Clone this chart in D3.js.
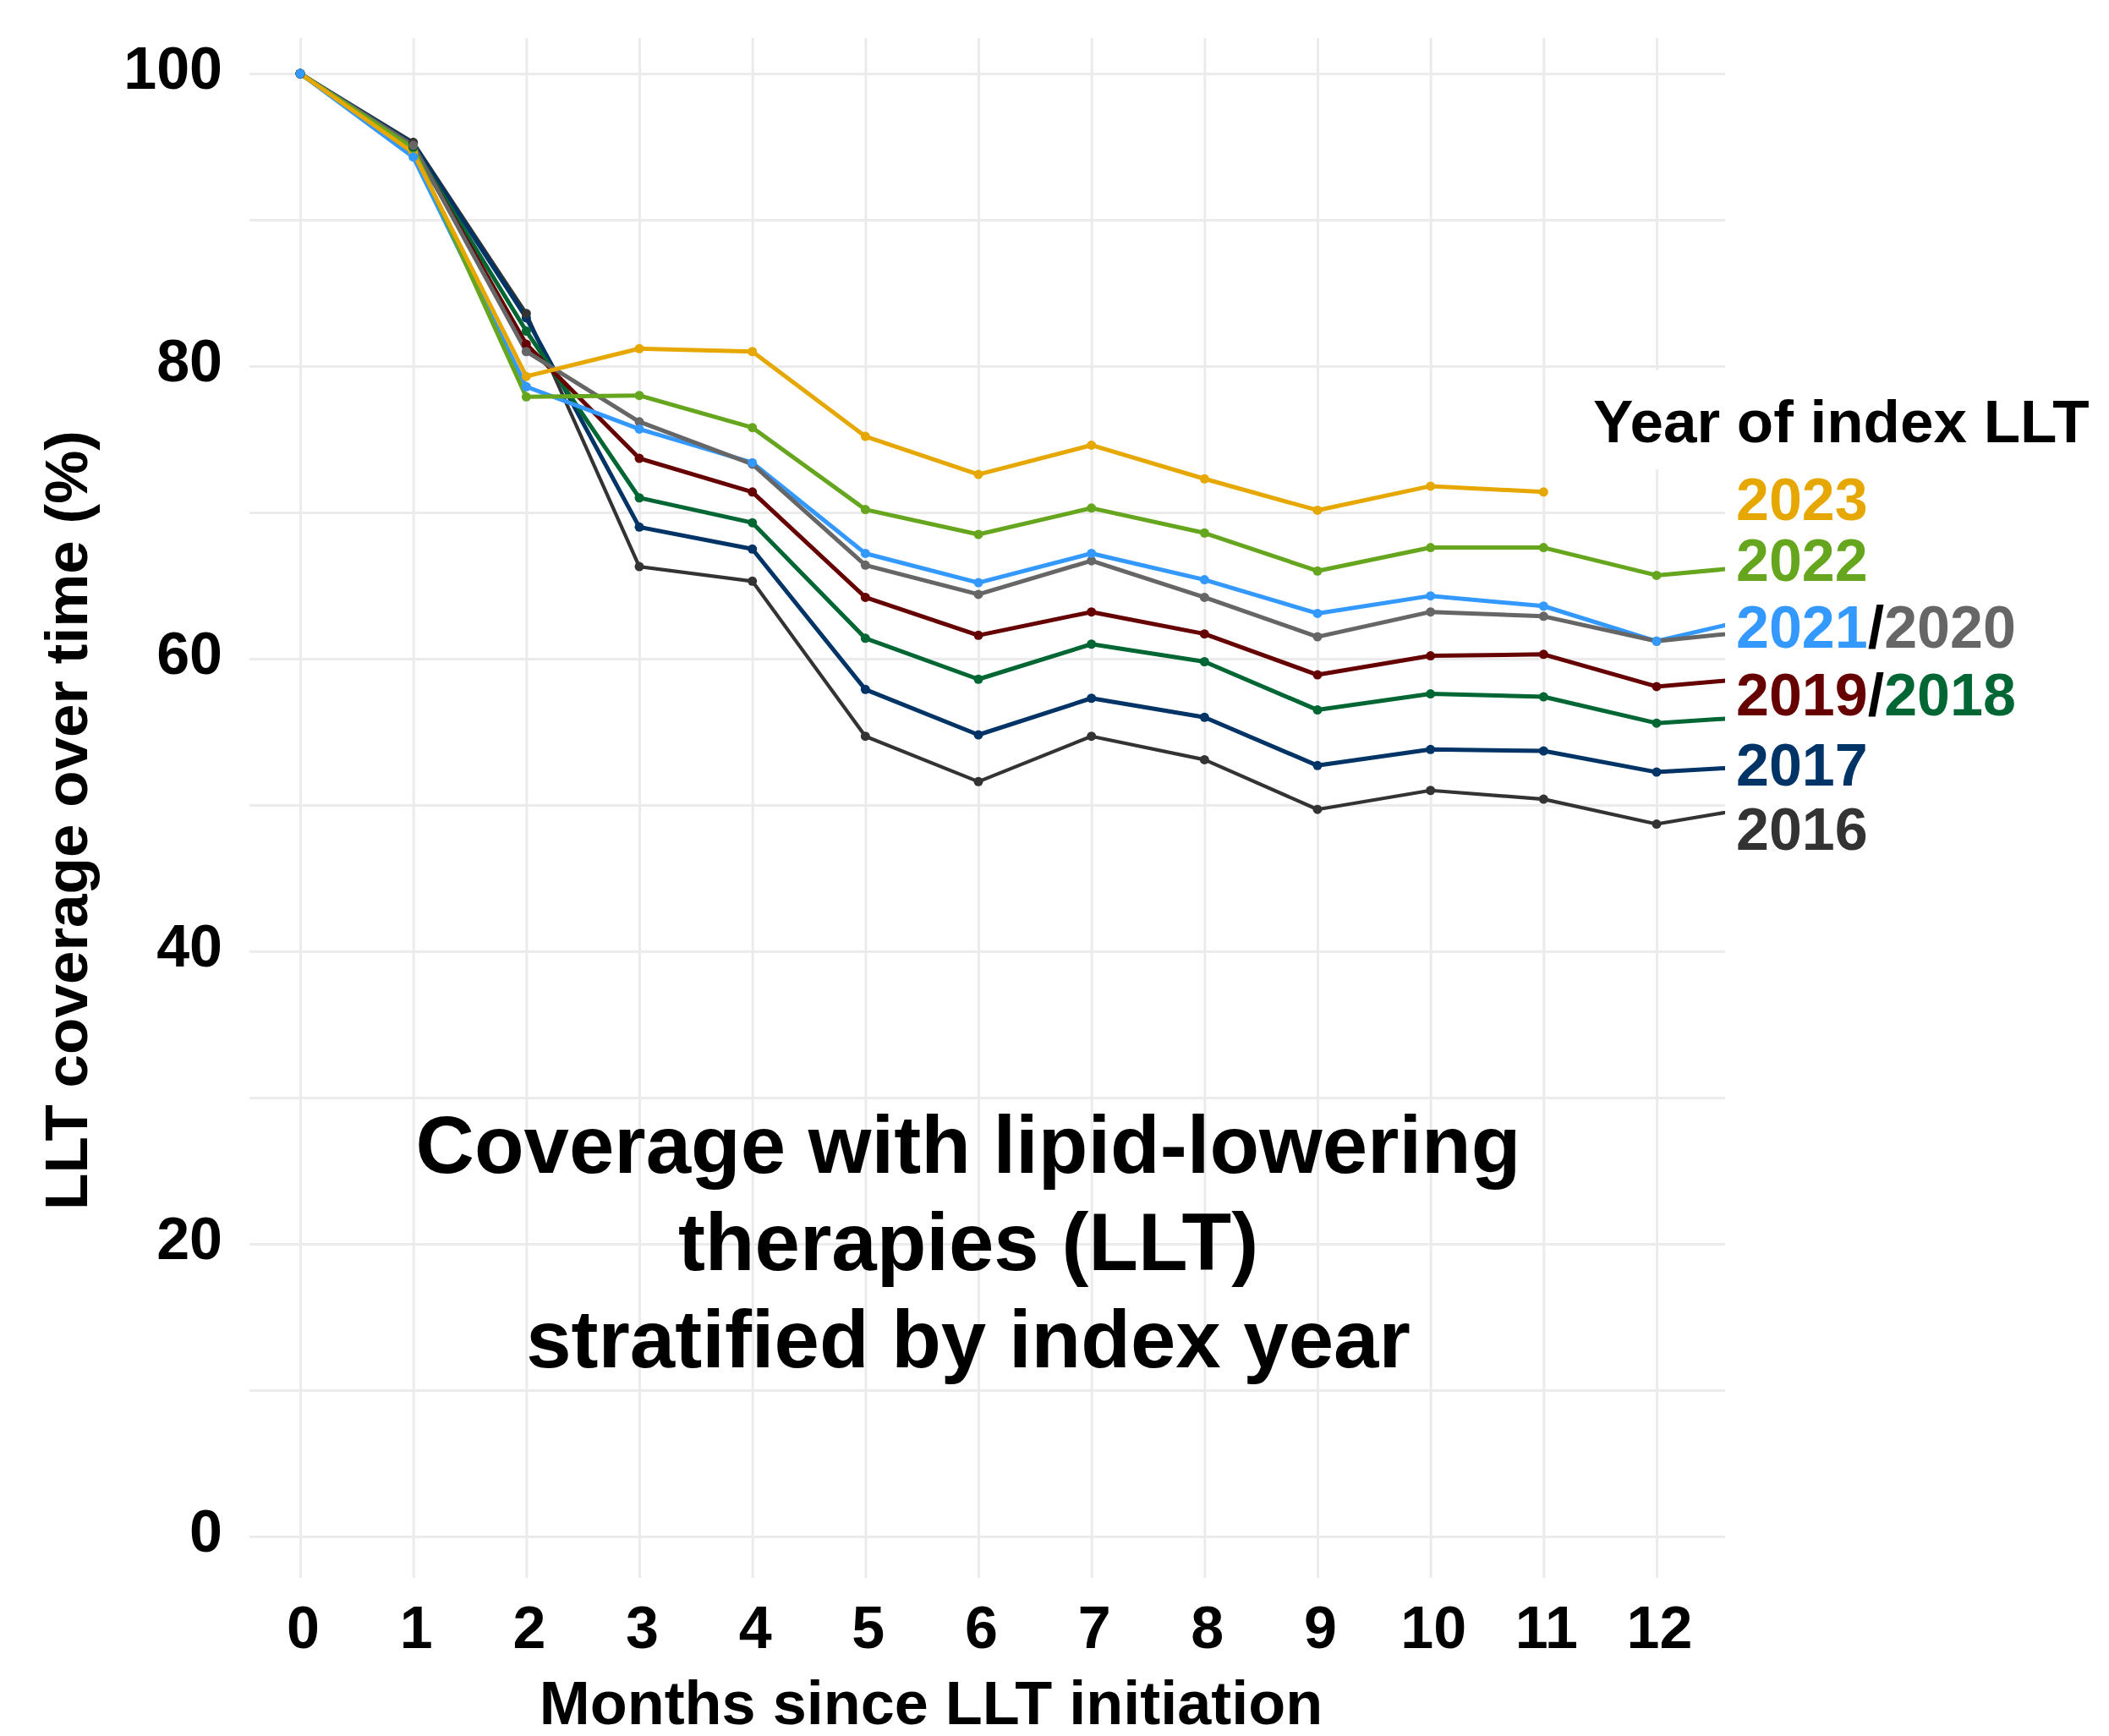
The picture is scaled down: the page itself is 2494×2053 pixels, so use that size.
<!DOCTYPE html>
<html><head><meta charset="utf-8">
<script src="https://cdn.jsdelivr.net/npm/d3@7"></script>
<style>
html,body{margin:0;padding:0;background:#fff;}
svg{display:block;}
text{font-family:"Liberation Sans",Arial,Helvetica,sans-serif;font-weight:bold;}
</style>
</head><body><div id="chart"></div>
<script>
// ---- data ----
const months = [0,1,2,3,4,5,6,7,8,9,10,11,12,13];
const years = ["2016","2017","2018","2019","2020","2021","2022","2023"];
const cov2016 = [100, 95.3, 83.6, 66.3, 65.3, 54.7, 51.6, 54.7, 53.1, 49.7, 51.0, 50.4, 48.7, 50.0];
const cov2017 = [100, 95.2, 83.3, 69.0, 67.5, 57.9, 54.8, 57.3, 56.0, 52.7, 53.8, 53.7, 52.25, 52.7];
const cov2018 = [100, 95.0, 82.4, 71.0, 69.3, 61.4, 58.6, 61.0, 59.8, 56.5, 57.6, 57.4, 55.6, 56.1];
const cov2019 = [100, 95.0, 81.5, 73.7, 71.4, 64.2, 61.6, 63.2, 61.7, 58.9, 60.2, 60.3, 58.1, 58.75];
const cov2020 = [100, 95.1, 81.0, 76.2, 73.3, 66.4, 64.4, 66.7, 64.2, 61.5, 63.2, 62.9, 61.2, 62.0];
const cov2021 = [100, 94.3, 78.6, 75.7, 73.4, 67.2, 65.2, 67.2, 65.4, 63.1, 64.3, 63.6, 61.2, 63.0];
const cov2022 = [100, 94.9, 77.9, 78.0, 75.8, 70.2, 68.5, 70.3, 68.6, 66.0, 67.6, 67.6, 65.7, 66.4];
const cov2023 = [100, 94.6, 79.3, 81.2, 81.0, 75.2, 72.6, 74.6, 72.3, 70.15, 71.8, 71.4];
const xTickValues = [0,1,2,3,4,5,6,7,8,9,10,11,12];
const yGridValues = [0,10,20,30,40,50,60,70,80,90,100];
const yTickLabels = [0,20,40,60,80,100];
const colors = {"2016":"#333333","2017":"#003366","2018":"#006633","2019":"#660000",
                "2020":"#666666","2021":"#3399FF","2022":"#66A61E","2023":"#E6A800"};
// label groups (year parts) and the value level each label sits at
const labelGroups = [["2023"],["2022"],["2021","2020"],["2019","2018"],["2017"],["2016"]];
const labelLevels = [70.95, 66.75, 62.2, 57.6, 52.8, 48.4];
const annotationLines = ["Coverage with lipid-lowering","therapies (LLT)","stratified by index year"];

const seriesData = {"2016":cov2016,"2017":cov2017,"2018":cov2018,"2019":cov2019,
                    "2020":cov2020,"2021":cov2021,"2022":cov2022,"2023":cov2023};
const lineOrder = ["2016","2017","2018","2019","2021","2020","2022","2023"];
const pointOrder = ["2023","2022","2019","2018","2017","2016","2020","2021"];

// ---- layout ----
const W = 2494, H = 2053;
const P = {left:295, right:2040, top:45, bottom:1866};
const x = d3.scaleLinear().domain([-0.449, 12.606]).range([P.left, P.right]);
const y = d3.scaleLinear().domain([-2.83, 102.43]).range([P.bottom, P.top]);

const svg = d3.select("#chart").append("svg").attr("width", W).attr("height", H);
svg.append("rect").attr("width", W).attr("height", H).attr("fill", "#fff");

const gridColor = "#EBEBEB";
// x axis (vertical grid + labels)
const gx = svg.append("g").attr("transform", `translate(0,${P.bottom})`)
  .call(d3.axisBottom(x).tickValues(xTickValues).tickSize(-(P.bottom - P.top)).tickFormat(d3.format("d")));
gx.select(".domain").remove();
gx.selectAll(".tick line").attr("stroke", gridColor).attr("stroke-width", 3);
gx.selectAll(".tick text").attr("y", 83).attr("dy", 0).attr("dx", 3)
  .attr("font-size", 70).attr("fill", "#000")
  .style("font-family", '"Liberation Sans",Arial,sans-serif').style("font-weight", "bold");

// y axis (horizontal grid + labels)
const gy = svg.append("g").attr("transform", `translate(${P.left},0)`)
  .call(d3.axisLeft(y).tickValues(yGridValues).tickSize(-(P.right - P.left))
    .tickPadding(32).tickFormat(d => yTickLabels.includes(d) ? d : ""));
gy.select(".domain").remove();
gy.selectAll(".tick line").attr("stroke", gridColor).attr("stroke-width", 3);
gy.selectAll(".tick text").attr("dy", 17).attr("font-size", 70).attr("fill", "#000")
  .style("font-family", '"Liberation Sans",Arial,sans-serif').style("font-weight", "bold");

// clip for panel
svg.append("clipPath").attr("id", "panel").append("rect")
  .attr("x", P.left).attr("y", P.top).attr("width", P.right - P.left).attr("height", P.bottom - P.top);

// annotation text (behind lines, over grid)
const ann = svg.append("text").attr("text-anchor", "middle").attr("font-size", 96).attr("fill", "#000");
annotationLines.forEach((t, i) => {
  ann.append("tspan").attr("x", 1145).attr("y", 1387 + i * 115).text(t);
});

const plot = svg.append("g").attr("clip-path", "url(#panel)");
const line = d3.line().x((d) => x(d[0])).y((d) => y(d[1]));
lineOrder.forEach(yr => {
  const vals = seriesData[yr];
  const pts = vals.map((v, i) => [months[i], v]);
  plot.append("path").datum(pts).attr("d", line).attr("fill", "none")
    .attr("stroke", colors[yr]).attr("stroke-width", yr === "2016" ? 4.2 : 5)
    .attr("stroke-linejoin", "round");
});
pointOrder.forEach(yr => {
  const vals = seriesData[yr];
  const pts = vals.map((v, i) => [months[i], v]).filter(d => d[0] <= 12);
  plot.selectAll(null).data(pts).enter().append("circle")
    .attr("cx", d => x(d[0])).attr("cy", d => y(d[1])).attr("r", 5.5)
    .attr("fill", colors[yr]);
});

// legend title with white box
svg.append("rect").attr("x", 1872).attr("y", 438).attr("width", W - 1872).attr("height", 117).attr("fill", "#fff");
svg.append("text").attr("x", 1884).attr("y", 523).attr("font-size", 71).attr("fill", "#000").text("Year of index LLT");

// year labels
labelGroups.forEach((grp, i) => {
  const t = svg.append("text").attr("x", 2053).attr("y", y(labelLevels[i])).attr("dy", "0.36em")
    .attr("font-size", 70);
  grp.forEach((yr, j) => {
    if (j > 0) t.append("tspan").attr("fill", "#000").text("/");
    t.append("tspan").attr("fill", colors[yr]).text(yr);
  });
});

// axis titles
svg.append("text").attr("x", 1101).attr("y", 2039).attr("text-anchor", "middle")
  .attr("font-size", 72).attr("fill", "#000").text("Months since LLT initiation");
svg.append("text").attr("transform", "translate(103,970) rotate(-90)").attr("text-anchor", "middle")
  .attr("font-size", 71).attr("fill", "#000").text("LLT coverage over time (%)");
</script>
</body></html>
